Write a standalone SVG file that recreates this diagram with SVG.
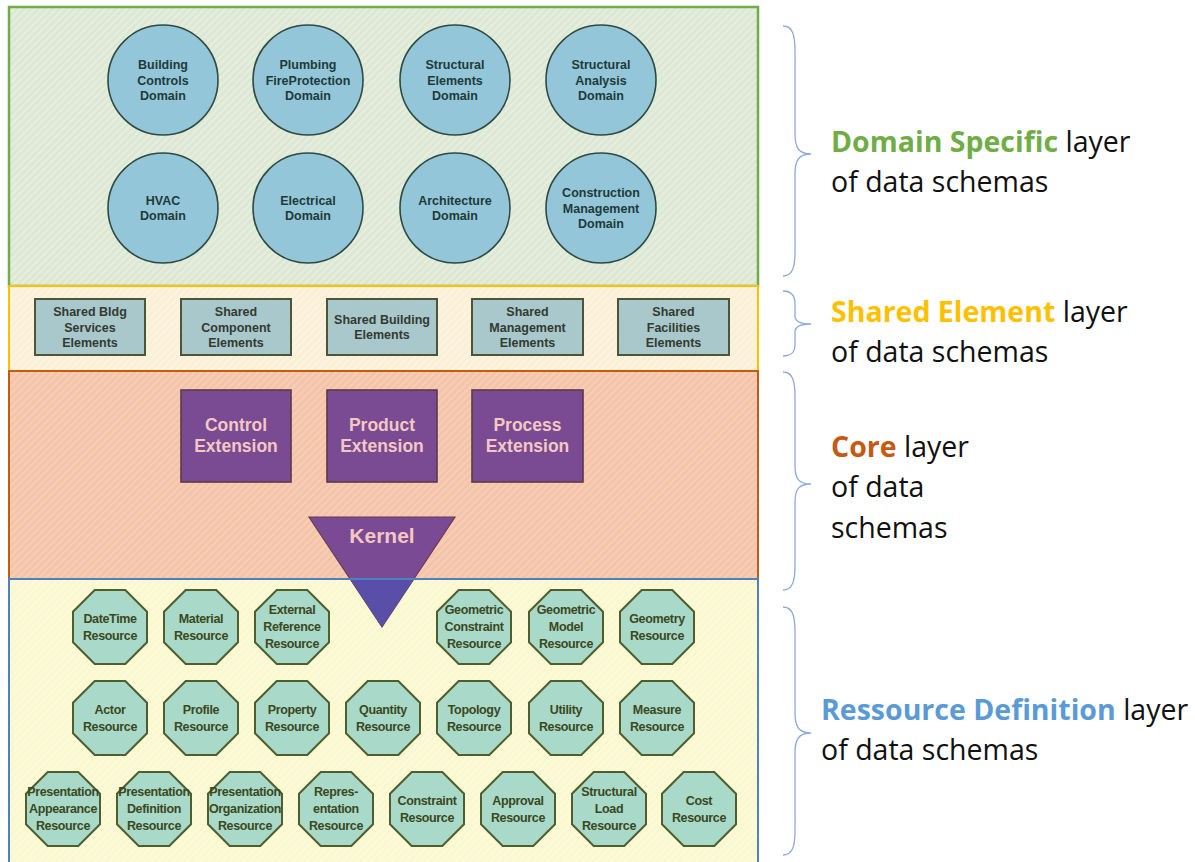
<svg xmlns="http://www.w3.org/2000/svg" width="1195" height="862" viewBox="0 0 1195 862">
<defs>
<pattern id="hatchG" width="5" height="5" patternUnits="userSpaceOnUse" patternTransform="rotate(45)"><rect width="5" height="5" fill="#dce8d4"/><line x1="1" y1="0" x2="1" y2="5" stroke="#e9f0e3" stroke-width="1.5"/></pattern>
<pattern id="hatchY" width="5" height="5" patternUnits="userSpaceOnUse" patternTransform="rotate(45)"><rect width="5" height="5" fill="#fbefd6"/><line x1="1" y1="0" x2="1" y2="5" stroke="#fdf6e6" stroke-width="1.5"/></pattern>
<pattern id="hatchO" width="5" height="5" patternUnits="userSpaceOnUse" patternTransform="rotate(45)"><rect width="5" height="5" fill="#f4c4a8"/><line x1="1" y1="0" x2="1" y2="5" stroke="#f7d2bc" stroke-width="1.5"/></pattern>
<pattern id="hatchB" width="5" height="5" patternUnits="userSpaceOnUse" patternTransform="rotate(45)"><rect width="5" height="5" fill="#fbf8cd"/><line x1="1" y1="0" x2="1" y2="5" stroke="#fdfbe2" stroke-width="1.5"/></pattern>
<polygon id="oct" points="-15.3,-37 15.3,-37 37,-15.3 37,15.3 15.3,37 -15.3,37 -37,15.3 -37,-15.3"/>
</defs>
<style>
.dom{fill:#93c6d8;stroke:#2e4a42;stroke-width:1.6}
.dt{font-family:"Liberation Sans",Arial,sans-serif;font-weight:bold;font-size:12.5px;fill:#1f3a38;text-anchor:middle}
.sh{fill:#a8c8cc;stroke:#4b5638;stroke-width:2}
.st{font-family:"Liberation Sans",Arial,sans-serif;font-weight:bold;font-size:12.5px;fill:#343a30;text-anchor:middle}
.ext{fill:#7a4a93;stroke:#5b3a48;stroke-width:1.6}
.et{font-family:"Liberation Sans",Arial,sans-serif;font-weight:bold;font-size:17.5px;fill:#f2c9c2;text-anchor:middle}
.res{fill:#a9d9c9;stroke:#4e5e2e;stroke-width:2}
.rt{font-family:"Liberation Sans",Arial,sans-serif;font-weight:bold;font-size:12.5px;fill:#3b4820;text-anchor:middle;letter-spacing:-0.35px}
.lbl{font-family:"Open Sans","Noto Sans",sans-serif;font-size:28.5px;fill:#111}
.brace{fill:none;stroke:#8eaad8;stroke-width:1.3}
</style>

<g id="layers">
<rect id="layer-domain" x="9" y="7" width="749" height="279" fill="url(#hatchG)" stroke="#70ad47" stroke-width="2.5"/>
<rect id="layer-shared" x="9" y="286" width="749" height="85" fill="url(#hatchY)" stroke="#ffc000" stroke-width="2"/>
<rect id="layer-core" x="9" y="371" width="749" height="208" fill="url(#hatchO)" stroke="#c55a11" stroke-width="2"/>
<rect id="layer-resource" x="9" y="579" width="749" height="292" fill="url(#hatchB)" stroke="#4f81bd" stroke-width="2"/>
</g>

<g id="connectors"></g>

<!-- Domain circles -->
<g id="n-building-controls"><circle class="dom" cx="163" cy="80" r="55"/><text class="dt"><tspan x="163" y="69">Building</tspan><tspan x="163" y="84.5">Controls</tspan><tspan x="163" y="100">Domain</tspan></text></g>
<g id="n-plumbing"><circle class="dom" cx="308" cy="80" r="55"/><text class="dt"><tspan x="308" y="69">Plumbing</tspan><tspan x="308" y="84.5">FireProtection</tspan><tspan x="308" y="100">Domain</tspan></text></g>
<g id="n-structural-elements"><circle class="dom" cx="455" cy="80" r="55"/><text class="dt"><tspan x="455" y="69">Structural</tspan><tspan x="455" y="84.5">Elements</tspan><tspan x="455" y="100">Domain</tspan></text></g>
<g id="n-structural-analysis"><circle class="dom" cx="601" cy="80" r="55"/><text class="dt"><tspan x="601" y="69">Structural</tspan><tspan x="601" y="84.5">Analysis</tspan><tspan x="601" y="100">Domain</tspan></text></g>
<g id="n-hvac"><circle class="dom" cx="163" cy="208" r="55"/><text class="dt"><tspan x="163" y="204.5">HVAC</tspan><tspan x="163" y="220">Domain</tspan></text></g>
<g id="n-electrical"><circle class="dom" cx="308" cy="208" r="55"/><text class="dt"><tspan x="308" y="204.5">Electrical</tspan><tspan x="308" y="220">Domain</tspan></text></g>
<g id="n-architecture"><circle class="dom" cx="455" cy="208" r="55"/><text class="dt"><tspan x="455" y="204.5">Architecture</tspan><tspan x="455" y="220">Domain</tspan></text></g>
<g id="n-construction-management"><circle class="dom" cx="601" cy="208" r="55"/><text class="dt"><tspan x="601" y="197">Construction</tspan><tspan x="601" y="212.5">Management</tspan><tspan x="601" y="228">Domain</tspan></text></g>

<!-- Shared elements -->
<g id="n-shared-bldg-services"><rect class="sh" x="35" y="299" width="110" height="56"/><text class="st"><tspan x="90" y="316">Shared Bldg</tspan><tspan x="90" y="331.5">Services</tspan><tspan x="90" y="347">Elements</tspan></text></g>
<g id="n-shared-component"><rect class="sh" x="181" y="299" width="110" height="56"/><text class="st"><tspan x="236" y="316">Shared</tspan><tspan x="236" y="331.5">Component</tspan><tspan x="236" y="347">Elements</tspan></text></g>
<g id="n-shared-building"><rect class="sh" x="327" y="299" width="110" height="56"/><text class="st"><tspan x="382" y="323.5">Shared Building</tspan><tspan x="382" y="339">Elements</tspan></text></g>
<g id="n-shared-management"><rect class="sh" x="472" y="299" width="111" height="56"/><text class="st"><tspan x="527.5" y="316">Shared</tspan><tspan x="527.5" y="331.5">Management</tspan><tspan x="527.5" y="347">Elements</tspan></text></g>
<g id="n-shared-facilities"><rect class="sh" x="618" y="299" width="111" height="56"/><text class="st"><tspan x="673.5" y="316">Shared</tspan><tspan x="673.5" y="331.5">Facilities</tspan><tspan x="673.5" y="347">Elements</tspan></text></g>

<!-- Core -->
<g id="n-control-extension"><rect class="ext" x="181" y="390" width="110" height="92"/><text class="et"><tspan x="236" y="431">Control</tspan><tspan x="236" y="452">Extension</tspan></text></g>
<g id="n-product-extension"><rect class="ext" x="327" y="390" width="110" height="92"/><text class="et"><tspan x="382" y="431">Product</tspan><tspan x="382" y="452">Extension</tspan></text></g>
<g id="n-process-extension"><rect class="ext" x="472" y="390" width="111" height="92"/><text class="et"><tspan x="527.5" y="431">Process</tspan><tspan x="527.5" y="452">Extension</tspan></text></g>
<g id="n-kernel">
<polygon points="309,517 455,517 382,627" fill="#7b4a95" stroke="#6a3a55" stroke-width="1.2"/>
<polygon points="350.1,579 413.9,579 382,627" fill="#5a4fa8"/>
<line x1="340" y1="579" x2="425" y2="579" stroke="#4f81bd" stroke-width="2"/>
<text x="382" y="543" font-family="Liberation Sans, Arial, sans-serif" font-weight="bold" font-size="21px" fill="#f2c9c2" text-anchor="middle">Kernel</text>
</g>

<!-- Resources row 1 -->
<g id="n-datetime"><use href="#oct" class="res" x="110" y="627"/><text class="rt"><tspan x="110" y="622.5">DateTime</tspan><tspan x="110" y="639.5">Resource</tspan></text></g>
<g id="n-material"><use href="#oct" class="res" x="201" y="627"/><text class="rt"><tspan x="201" y="622.5">Material</tspan><tspan x="201" y="639.5">Resource</tspan></text></g>
<g id="n-external-reference"><use href="#oct" class="res" x="292" y="627"/><text class="rt"><tspan x="292" y="614">External</tspan><tspan x="292" y="631">Reference</tspan><tspan x="292" y="648">Resource</tspan></text></g>
<g id="n-geometric-constraint"><use href="#oct" class="res" x="474" y="627"/><text class="rt"><tspan x="474" y="614">Geometric</tspan><tspan x="474" y="631">Constraint</tspan><tspan x="474" y="648">Resource</tspan></text></g>
<g id="n-geometric-model"><use href="#oct" class="res" x="566" y="627"/><text class="rt"><tspan x="566" y="614">Geometric</tspan><tspan x="566" y="631">Model</tspan><tspan x="566" y="648">Resource</tspan></text></g>
<g id="n-geometry"><use href="#oct" class="res" x="657" y="627"/><text class="rt"><tspan x="657" y="622.5">Geometry</tspan><tspan x="657" y="639.5">Resource</tspan></text></g>

<!-- Resources row 2 -->
<g id="n-actor"><use href="#oct" class="res" x="110" y="718"/><text class="rt"><tspan x="110" y="713.5">Actor</tspan><tspan x="110" y="730.5">Resource</tspan></text></g>
<g id="n-profile"><use href="#oct" class="res" x="201" y="718"/><text class="rt"><tspan x="201" y="713.5">Profile</tspan><tspan x="201" y="730.5">Resource</tspan></text></g>
<g id="n-property"><use href="#oct" class="res" x="292" y="718"/><text class="rt"><tspan x="292" y="713.5">Property</tspan><tspan x="292" y="730.5">Resource</tspan></text></g>
<g id="n-quantity"><use href="#oct" class="res" x="383" y="718"/><text class="rt"><tspan x="383" y="713.5">Quantity</tspan><tspan x="383" y="730.5">Resource</tspan></text></g>
<g id="n-topology"><use href="#oct" class="res" x="474" y="718"/><text class="rt"><tspan x="474" y="713.5">Topology</tspan><tspan x="474" y="730.5">Resource</tspan></text></g>
<g id="n-utility"><use href="#oct" class="res" x="566" y="718"/><text class="rt"><tspan x="566" y="713.5">Utility</tspan><tspan x="566" y="730.5">Resource</tspan></text></g>
<g id="n-measure"><use href="#oct" class="res" x="657" y="718"/><text class="rt"><tspan x="657" y="713.5">Measure</tspan><tspan x="657" y="730.5">Resource</tspan></text></g>

<!-- Resources row 3 -->
<g id="n-presentation-appearance"><use href="#oct" class="res" x="63" y="809"/><text class="rt"><tspan x="63" y="796">Presentation</tspan><tspan x="63" y="813">Appearance</tspan><tspan x="63" y="830">Resource</tspan></text></g>
<g id="n-presentation-definition"><use href="#oct" class="res" x="154" y="809"/><text class="rt"><tspan x="154" y="796">Presentation</tspan><tspan x="154" y="813">Definition</tspan><tspan x="154" y="830">Resource</tspan></text></g>
<g id="n-presentation-organization"><use href="#oct" class="res" x="245" y="809"/><text class="rt"><tspan x="245" y="796">Presentation</tspan><tspan x="245" y="813">Organization</tspan><tspan x="245" y="830">Resource</tspan></text></g>
<g id="n-representation"><use href="#oct" class="res" x="336" y="809"/><text class="rt"><tspan x="336" y="796">Repres-</tspan><tspan x="336" y="813">entation</tspan><tspan x="336" y="830">Resource</tspan></text></g>
<g id="n-constraint"><use href="#oct" class="res" x="427" y="809"/><text class="rt"><tspan x="427" y="804.5">Constraint</tspan><tspan x="427" y="821.5">Resource</tspan></text></g>
<g id="n-approval"><use href="#oct" class="res" x="518" y="809"/><text class="rt"><tspan x="518" y="804.5">Approval</tspan><tspan x="518" y="821.5">Resource</tspan></text></g>
<g id="n-structural-load"><use href="#oct" class="res" x="609" y="809"/><text class="rt"><tspan x="609" y="796">Structural</tspan><tspan x="609" y="813">Load</tspan><tspan x="609" y="830">Resource</tspan></text></g>
<g id="n-cost"><use href="#oct" class="res" x="699" y="809"/><text class="rt"><tspan x="699" y="804.5">Cost</tspan><tspan x="699" y="821.5">Resource</tspan></text></g>

<!-- Braces and labels -->
<g id="annotations">
<path class="brace" d="M783,26 C792,26 795,34 795,50 L795,134 C795,148 799,154 811,154 C799,154 795,160 795,174 L795,252 C795,268 792,276 783,276"/>
<path class="brace" d="M783,291 C792,291 795,296 795,304 L795,316 C795,321 800,324 811,324 C800,324 795,327 795,332 L795,344 C795,352 792,356 783,356"/>
<path class="brace" d="M783,372 C792,372 795,380 795,396 L795,466 C795,479 799,484 811,484 C799,484 795,489 795,502 L795,566 C795,582 792,590 783,590"/>
<path class="brace" d="M783,607 C792,607 795,615 795,631 L795,713 C795,727 799,733 811,733 C799,733 795,739 795,753 L795,831 C795,847 792,855 783,855"/>
<text class="lbl" x="831" y="152"><tspan font-weight="bold" fill="#70ad47">Domain Specific</tspan> layer</text>
<text class="lbl" x="831" y="192">of data schemas</text>
<text class="lbl" x="831" y="322"><tspan font-weight="bold" fill="#ffc000">Shared Element</tspan> layer</text>
<text class="lbl" x="831" y="362">of data schemas</text>
<text class="lbl" x="831" y="457"><tspan font-weight="bold" fill="#c55a11">Core</tspan> layer</text>
<text class="lbl" x="831" y="497">of data</text>
<text class="lbl" x="831" y="538">schemas</text>
<text class="lbl" x="821" y="720"><tspan font-weight="bold" fill="#5b9bd5">Ressource Definition</tspan> layer</text>
<text class="lbl" x="821" y="760">of data schemas</text>
</g>
</svg>
